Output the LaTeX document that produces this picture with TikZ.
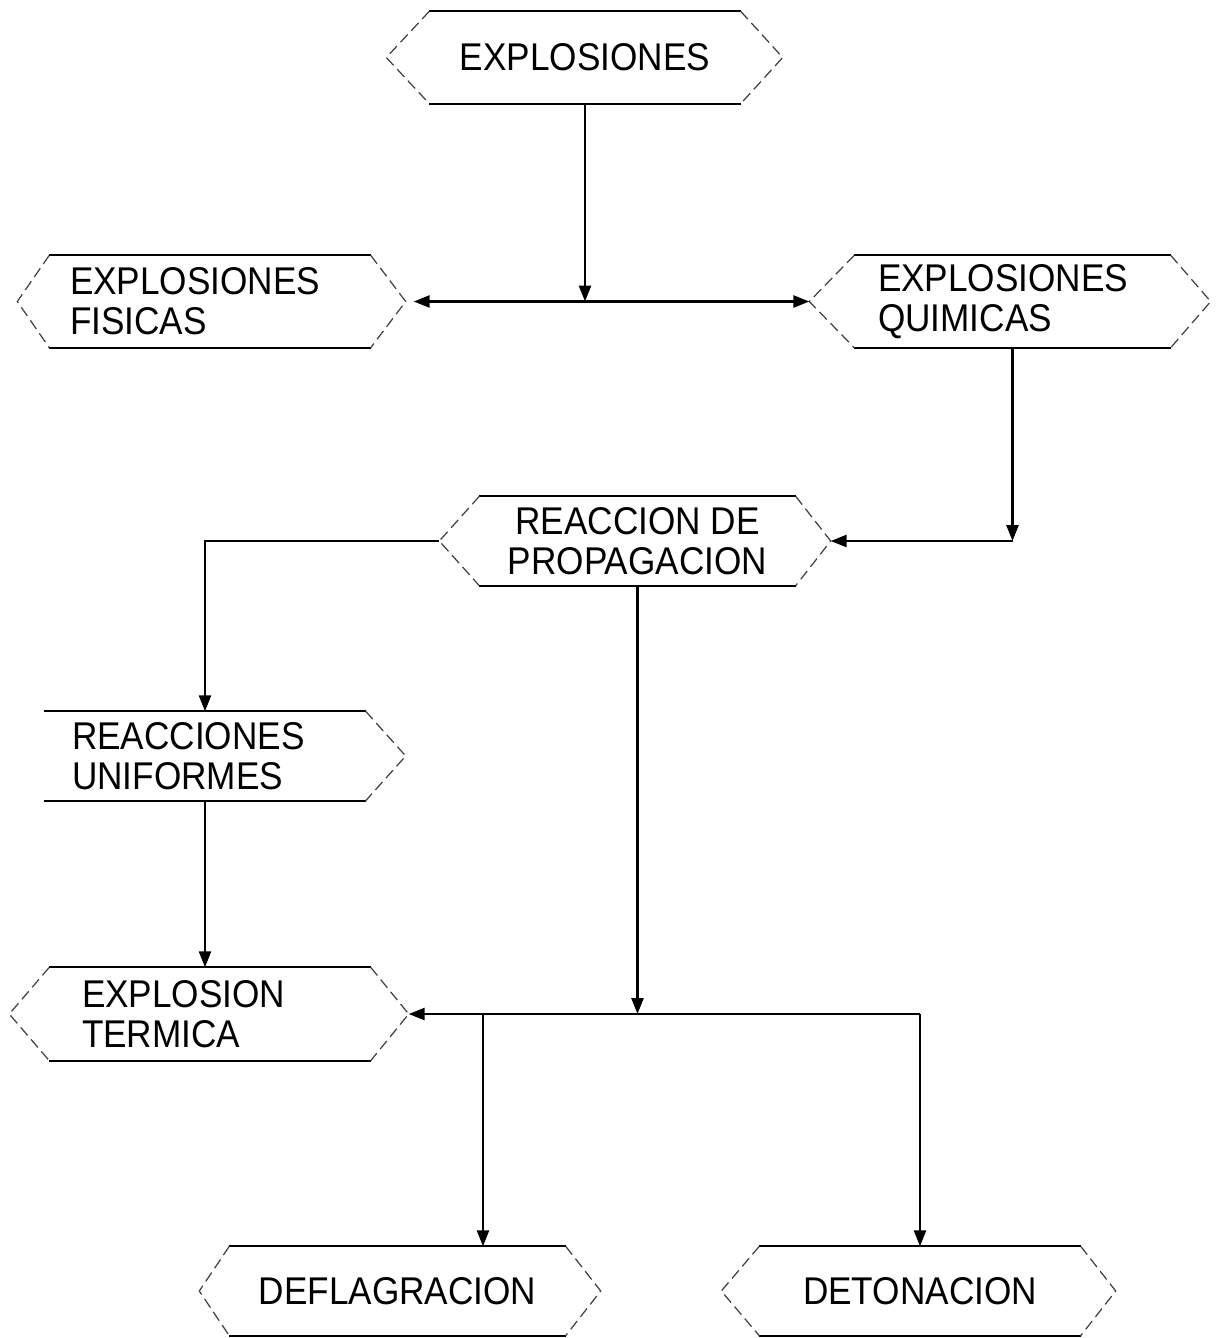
\documentclass[tikz,border=0pt]{standalone}
\usepackage{fontspec}
\newfontfamily\hexfont{Liberation Sans}[FakeStretch=0.91]
\usetikzlibrary{arrows.meta, calc}

\begin{document}
\begin{tikzpicture}[
  box/.style={inner xsep=0pt, inner ysep=0pt, minimum height=0.9cm,
              font=\hexfont\fontsize{11}{11.4}\selectfont, align=center},
  lbox/.style={box, align=left},
  rim/.style={line width=0.6pt},
  side/.style={line width=0.35pt, black!75, dash pattern=on 3pt off 1.5pt},
  arr/.style={-{Triangle[length=4.5pt, width=3.4pt]}, line width=0.6pt},
  arrs/.style={{Triangle[length=4.5pt, width=3.4pt]}-{Triangle[length=4.5pt, width=3.4pt]}, line width=0.6pt}
]
  \useasboundingbox (0,0) rectangle (12.16,-13.38);

  % boxes
  \node[box, minimum width=3.10cm, minimum height=0.91cm] (expl) at (5.85,-0.575) {EXPLOSIONES};
  \node[lbox, text width=2.80cm, inner xsep=0.20cm, minimum height=0.91cm] (fis) at (2.10,-3.015) {EXPLOSIONES\\FISICAS};
  \node[lbox, text width=2.69cm, inner xsep=0.23cm, minimum height=0.91cm] (quim) at (10.125,-3.015) {EXPLOSIONES\\QUIMICAS};
  \node[box, minimum width=3.15cm, minimum height=0.88cm] (reac) at (6.375,-5.41) {REACCION DE\\PROPAGACION};
  \node[lbox, text width=2.66cm, inner xsep=0.27cm, minimum height=0.88cm] (unif) at (2.05,-7.56) {REACCIONES\\UNIFORMES};
  \node[lbox, text width=2.56cm, inner xsep=0.32cm, minimum height=0.92cm] (term) at (2.10,-10.14) {EXPLOSION\\TERMICA};
  \node[box, minimum width=3.35cm, minimum height=0.88cm] (defl) at (3.975,-12.91) {DEFLAGRACION};
  \node[box, minimum width=3.20cm, minimum height=0.88cm] (deto) at (9.20,-12.91) {DETONACION};

  % outlines
  \foreach \n/\r in {expl/0.42, fis/0.35, quim/0.40, reac/0.35, unif/0.40, term/0.38, defl/0.35, deto/0.35} {
    \draw[rim] (\n.north west) -- (\n.north east);
    \draw[rim] (\n.south west) -- (\n.south east);
    \coordinate (\n-r) at ($(\n.east)+(\r,0)$);
    \draw[side] (\n.north east) -- (\n-r) -- (\n.south east);
  }
  \foreach \n/\l in {expl/0.43, fis/0.32, quim/0.45, reac/0.40, term/0.40, defl/0.30, deto/0.38} {
    \coordinate (\n-l) at ($(\n.west)+(-\l,0)$);
    \draw[side] (\n.north west) -- (\n-l) -- (\n.south west);
  }

  % connectors
  \coordinate (j1) at (expl.south |- fis.east);
  \draw[arr] (expl.south) -- (j1);
  \draw[arrs, shorten <=0.08cm] (fis-r) -- (quim-l);
  \coordinate (c1) at (quim.south |- reac.east);
  \draw[arr] (quim.south) -- (c1);
  \draw[arr] (c1) -- (reac-r);
  \draw[arr] (reac-l) -| (unif.north);
  \draw[arr] (unif.south) -- (unif.south |- term.north);
  \coordinate (j2) at (reac.south |- term.east);
  \draw[arr] (reac.south) -- (j2);
  \coordinate (c2) at (deto.north |- term.east);
  \draw[arr] (c2) -- (term-r);
  \path (4.83,0) coordinate (x3);
  \coordinate (j3) at (x3 |- term.east);
  \draw[arr] (j3) -- (j3 |- defl.north);
  \draw[arr] (c2) -- (deto.north);
\end{tikzpicture}
\end{document}
